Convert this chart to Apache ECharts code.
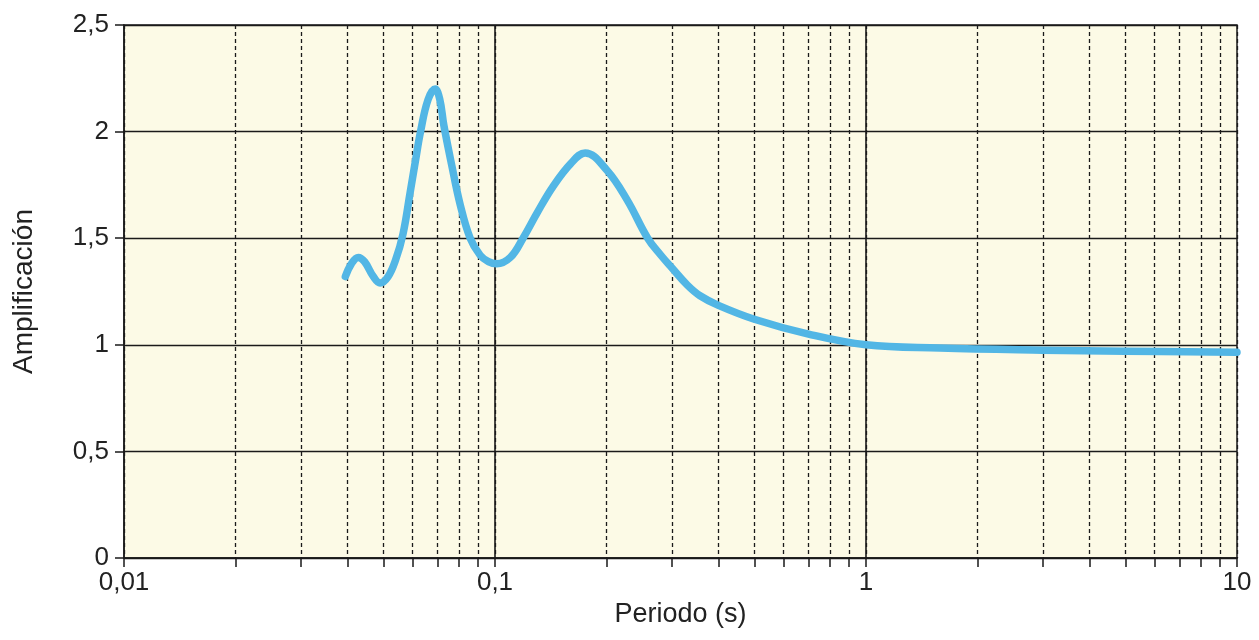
<!DOCTYPE html>
<html>
<head>
<meta charset="utf-8">
<script src="https://cdn.jsdelivr.net/npm/echarts@6/dist/echarts.min.js"></script>
<style>
  html, body { margin: 0; padding: 0; background: #ffffff; }
  #chart { width: 1259px; height: 640px; }
</style>
</head>
<body>
<div id="chart"></div>
<script>
// Amplification spectrum versus period (log scale)
const periods = [0.0395, 0.041, 0.0428, 0.0445, 0.047, 0.049, 0.0515, 0.054, 0.0565, 0.059,
  0.061, 0.063, 0.066, 0.069, 0.071, 0.0728, 0.0765, 0.0805, 0.0857, 0.0912, 0.096, 0.101,
  0.110, 0.119, 0.130, 0.143, 0.160, 0.175, 0.200, 0.227, 0.258, 0.280, 0.300, 0.330,
  0.357, 0.40, 0.50, 0.70, 1.0, 1.58, 3, 5, 10];
const amplification = [1.32, 1.38, 1.41, 1.39, 1.32, 1.29, 1.32, 1.40, 1.52, 1.71,
  1.86, 2.0, 2.15, 2.20, 2.15, 2.03, 1.84, 1.66, 1.50, 1.42, 1.39, 1.38,
  1.41, 1.50, 1.62, 1.74, 1.85, 1.90, 1.82, 1.68, 1.50, 1.42, 1.36, 1.28,
  1.23, 1.185, 1.12, 1.05, 1.0, 0.985, 0.975, 0.97, 0.965];

// Tick positions: every integer multiple inside each decade
const xTickValues = [0.01, 0.02, 0.03, 0.04, 0.05, 0.06, 0.07, 0.08, 0.09,
  0.1, 0.2, 0.3, 0.4, 0.5, 0.6, 0.7, 0.8, 0.9,
  1, 2, 3, 4, 5, 6, 7, 8, 9, 10];
const xMajorValues = [0.01, 0.1, 1, 10];
const xMajorLabels = ['0,01', '0,1', '1', '10'];
const yTickLabels = ['0', '0,5', '1', '1,5', '2', '2,5'];

const chart = echarts.init(document.getElementById('chart'));

chart.setOption({
  animation: false,
  backgroundColor: '#ffffff',
  grid: {
    left: 124, right: 22, top: 25, bottom: 82,
    show: true,
    backgroundColor: '#fcfae6',
    borderColor: '#1a1a1a',
    borderWidth: 1.5
  },
  xAxis: {
    type: 'log',
    logBase: 10,
    min: 0.01,
    max: 10,
    name: 'Periodo (s)',
    nameLocation: 'middle',
    nameGap: 40,
    nameTextStyle: { fontFamily: 'Liberation Sans', fontSize: 27, color: '#222' },
    axisLine: { show: true, lineStyle: { color: '#1a1a1a', width: 1.5 } },
    axisTick: {
      show: true, inside: false, length: 9,
      customValues: xTickValues,
      lineStyle: { color: '#1a1a1a', width: 1.5 }
    },
    axisLabel: {
      customValues: xMajorValues,
      fontFamily: 'Liberation Sans', fontSize: 26, color: '#222', margin: 12,
      formatter: function (v) {
        let best = 0;
        for (let i = 1; i < xMajorValues.length; i++) {
          if (Math.abs(Math.log10(v) - Math.log10(xMajorValues[i])) <
              Math.abs(Math.log10(v) - Math.log10(xMajorValues[best]))) best = i;
        }
        return xMajorLabels[best];
      }
    },
    splitLine: {
      show: true,
      lineStyle: { color: '#1a1a1a', width: 1.3, type: [4, 3] }
    },
    minorTick: { show: false },
    minorSplitLine: { show: false }
  },
  yAxis: {
    type: 'value',
    min: 0,
    max: 2.5,
    interval: 0.5,
    name: 'Amplificación',
    nameLocation: 'middle',
    nameGap: 86,
    nameRotate: 90,
    nameTextStyle: { fontFamily: 'Liberation Sans', fontSize: 28, color: '#222' },
    axisLine: { show: true, lineStyle: { color: '#1a1a1a', width: 1.5 } },
    axisTick: { show: true, inside: false, length: 9, lineStyle: { color: '#1a1a1a', width: 1.5 } },
    axisLabel: {
      fontFamily: 'Liberation Sans', fontSize: 26, color: '#222', margin: 15,
      formatter: function (v) { return yTickLabels[Math.round(v / 0.5)]; }
    },
    splitLine: { show: true, lineStyle: { color: '#1a1a1a', width: 1.3 } }
  },
  series: [{
    type: 'line',
    data: periods.map(function (p, i) { return [p, amplification[i]]; }),
    smooth: 0.4,
    showSymbol: false,
    lineStyle: { color: '#52b6e5', width: 7.5, cap: 'round', join: 'round' },
    z: 5,
    markLine: {
      silent: true,
      symbol: 'none',
      label: { show: false },
      lineStyle: { color: '#1a1a1a', width: 1.6, type: 'solid' },
      data: [{ xAxis: 0.1 }, { xAxis: 1 }],
      z: 3
    }
  }]
});
</script>
</body>
</html>
